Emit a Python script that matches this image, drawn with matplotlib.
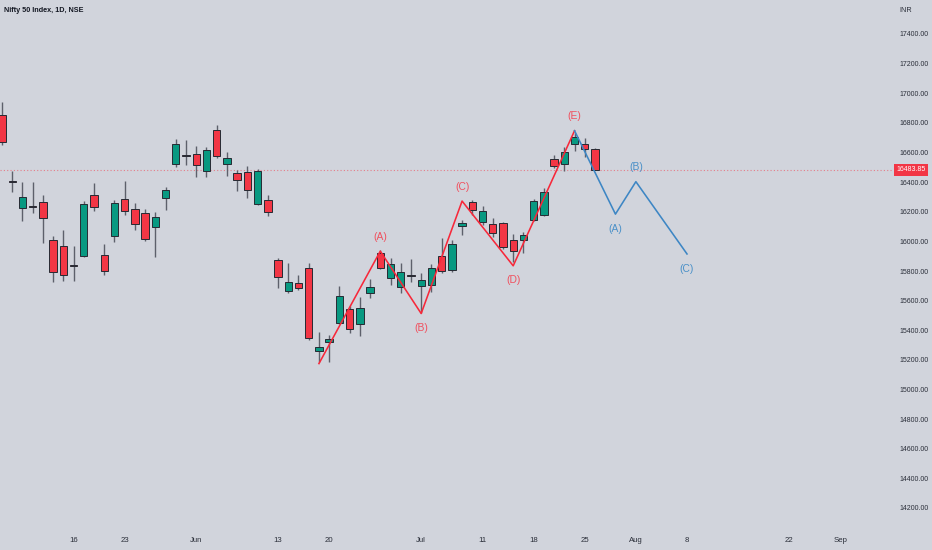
import matplotlib
matplotlib.use('Agg')
import matplotlib.pyplot as plt
import matplotlib.transforms as mtransforms

plt.rcParams['font.family'] = ['Liberation Sans Narrow', 'Liberation Sans', 'DejaVu Sans']

# daily candles, Nifty 50 (May 5 .. Jul 26)
dates = ['May 5', 'May 6', 'May 9', 'May 10', 'May 11', 'May 12', 'May 13', 'May 16', 'May 17', 'May 18',
         'May 19', 'May 20', 'May 23', 'May 24', 'May 25', 'May 26', 'May 27', 'May 30', 'May 31', 'Jun 1',
         'Jun 2', 'Jun 3', 'Jun 6', 'Jun 7', 'Jun 8', 'Jun 9', 'Jun 10', 'Jun 13', 'Jun 14', 'Jun 15',
         'Jun 16', 'Jun 17', 'Jun 20', 'Jun 21', 'Jun 22', 'Jun 23', 'Jun 24', 'Jun 27', 'Jun 28', 'Jun 29',
         'Jun 30', 'Jul 1', 'Jul 4', 'Jul 5', 'Jul 6', 'Jul 7', 'Jul 8', 'Jul 11', 'Jul 12', 'Jul 13',
         'Jul 14', 'Jul 15', 'Jul 18', 'Jul 19', 'Jul 20', 'Jul 21', 'Jul 22', 'Jul 25', 'Jul 26']
opens = [16853, 16410, 16223, 16240, 16263, 16010, 15968, 15838, 15902, 16310,
         15907, 16037, 16283, 16218, 16189, 16096, 16290, 16520, 16578, 16587,
         16474, 16751, 16522, 16459, 16466, 16253, 16276, 15873, 15662, 15717,
         15822, 15262, 15322, 15446, 15541, 15440, 15649, 15919, 15751, 15689,
         15770, 15699, 15705, 15901, 15806, 16105, 16267, 16130, 16117, 16121,
         16008, 16008, 16144, 16180, 16554, 16522, 16657, 16657, 16626]
highs = [16941, 16476, 16398, 16398, 16310, 16035, 16076, 15968, 16274, 16391,
         15984, 16277, 16407, 16256, 16218, 16197, 16364, 16689, 16684, 16643,
         16634, 16785, 16605, 16481, 16508, 16486, 16310, 15885, 15851, 15773,
         15851, 15390, 15367, 15700, 15563, 15622, 15744, 15941, 15890, 15856,
         15881, 15789, 15847, 16021, 16009, 16143, 16278, 16238, 16155, 16132,
         16053, 16064, 16287, 16358, 16583, 16639, 16730, 16696, 16630]
lows = [16650, 16335, 16137, 16193, 15990, 15726, 15733, 15733, 15895, 16206,
        15775, 15998, 16177, 16074, 16003, 15895, 16215, 16499, 16515, 16432,
        16436, 16560, 16441, 16339, 16290, 16244, 16170, 15682, 15652, 15672,
        15334, 15187, 15187, 15440, 15379, 15361, 15616, 15811, 15703, 15649,
        15724, 15514, 15660, 15784, 15795, 16042, 16177, 16110, 16030, 15947,
        15862, 15922, 16139, 16173, 16493, 16477, 16612, 16568, 16480]
closes = [16672, 16403, 16297, 16229, 16157, 15794, 15772, 15835, 16249, 16229,
          15801, 16256, 16206, 16114, 16017, 16162, 16346, 16655, 16574, 16513,
          16616, 16576, 16562, 16412, 16346, 16472, 16196, 15760, 15723, 15683,
          15350, 15285, 15340, 15630, 15406, 15547, 15689, 15822, 15845, 15791,
          15768, 15739, 15822, 15802, 15979, 16123, 16211, 16206, 16054, 15959,
          15934, 16043, 16273, 16333, 16511, 16601, 16707, 16622, 16483.85]

# elliott wave marks (bar index, price)
wave_x = [31, 37, 41, 45, 50, 56]
wave_y = [15175, 15934, 15513, 16272, 15835, 16747]
wave_lbl = ['', '(A)', '(B)', '(C)', '(D)', '(E)']
corr_x = [56, 60, 62, 67]
corr_y = [16747, 16184, 16403, 15915]
corr_lbl = ['', '(A)', '(B)', '(C)']

# time axis labels
tick_pos = [7, 12, 19, 27, 32, 41, 47, 52, 57, 62, 67, 77, 82]
tick_txt = ['16', '23', 'Jun', '13', '20', 'Jul', '11', '18', '25', 'Aug', '8', '22', 'Sep']
price_ticks = list(range(14200, 17401, 200))

BG = '#d1d4dc'
UP = '#089981'
DN = '#f23645'
TXT = '#2a2e39'

fig = plt.figure(figsize=(9.32, 5.5), dpi=100, facecolor=BG)
ax = fig.add_axes([0, 28 / 550, 893 / 932, 522 / 550])
ax.set_facecolor(BG)
for s in ax.spines.values():
    s.set_visible(False)

xs = list(range(len(dates)))
body_lo = [min(o, c) for o, c in zip(opens, closes)]
body_h = [max(abs(c - o), 6) for o, c in zip(opens, closes)]
cols = [UP if c >= o else DN for o, c in zip(opens, closes)]
ax.vlines(xs, lows, highs, color='#5d606b', lw=1.0, zorder=2)
ax.bar(xs, body_h, bottom=body_lo, width=0.72, color=cols, edgecolor='#262a33', linewidth=0.7, zorder=3)

# last price line
last = closes[-1]
ax.axhline(last, color=DN, lw=0.8, ls=(0, (1, 2)), alpha=0.55, zorder=1)

def draw_wave(px, py, lbls, color, tcolor):
    ax.plot(px, py, color=color, lw=1.15, zorder=4)
    for i, lb in enumerate(lbls):
        if not lb:
            continue
        if i < len(py) - 1:
            up = py[i] > py[i - 1] and py[i] > py[i + 1]
        else:
            up = py[i] > py[i - 1]
        ax.annotate(lb, (px[i], py[i]), xytext=(0, 10.5 if up else -10.5), textcoords='offset points',
                    ha='center', va='center', fontsize=7.4, color=tcolor, zorder=5)

draw_wave(wave_x, wave_y, wave_lbl, '#f7283a', '#f0505e')
draw_wave(corr_x, corr_y, corr_lbl, '#3d86c4', '#4a90c8')

ax.set_xlim(-2 / 10.224, 891 / 10.224)
ax.set_ylim(17400 - 488 / 0.148125, 17400 + 34 / 0.148125)

ax.yaxis.tick_right()
ax.set_yticks(price_ticks)
ax.set_yticklabels(['%.2f' % p for p in price_ticks])
ax.tick_params(axis='y', length=0, pad=4.3, labelsize=5.0, labelcolor=TXT)
for lab in ax.get_yticklabels():
    lab.set_horizontalalignment('left')
ax.set_xticks(tick_pos)
ax.set_xticklabels(tick_txt)
ax.tick_params(axis='x', length=0, pad=11, labelsize=5.6, labelcolor=TXT)

# last price tag on the scale
tr = mtransforms.blended_transform_factory(ax.transAxes, ax.transData)
ax.text(1 + 18 / 893, last, '%.2f' % last, transform=tr, ha='center', va='center', fontsize=5.0,
        color='white', clip_on=False, zorder=6,
        bbox=dict(boxstyle='square,pad=0.35', fc=DN, ec='none'))

fig.text(4 / 932, 1 - 11 / 550, 'Nifty 50 Index, 1D, NSE', ha='left', va='center', fontsize=5.2,
         fontweight='bold', color='#131722')
fig.text(899 / 932, 1 - 10 / 550, 'INR', ha='left', va='center', fontsize=5.2, color=TXT)

fig.savefig('out.png', dpi=100, facecolor=BG)
